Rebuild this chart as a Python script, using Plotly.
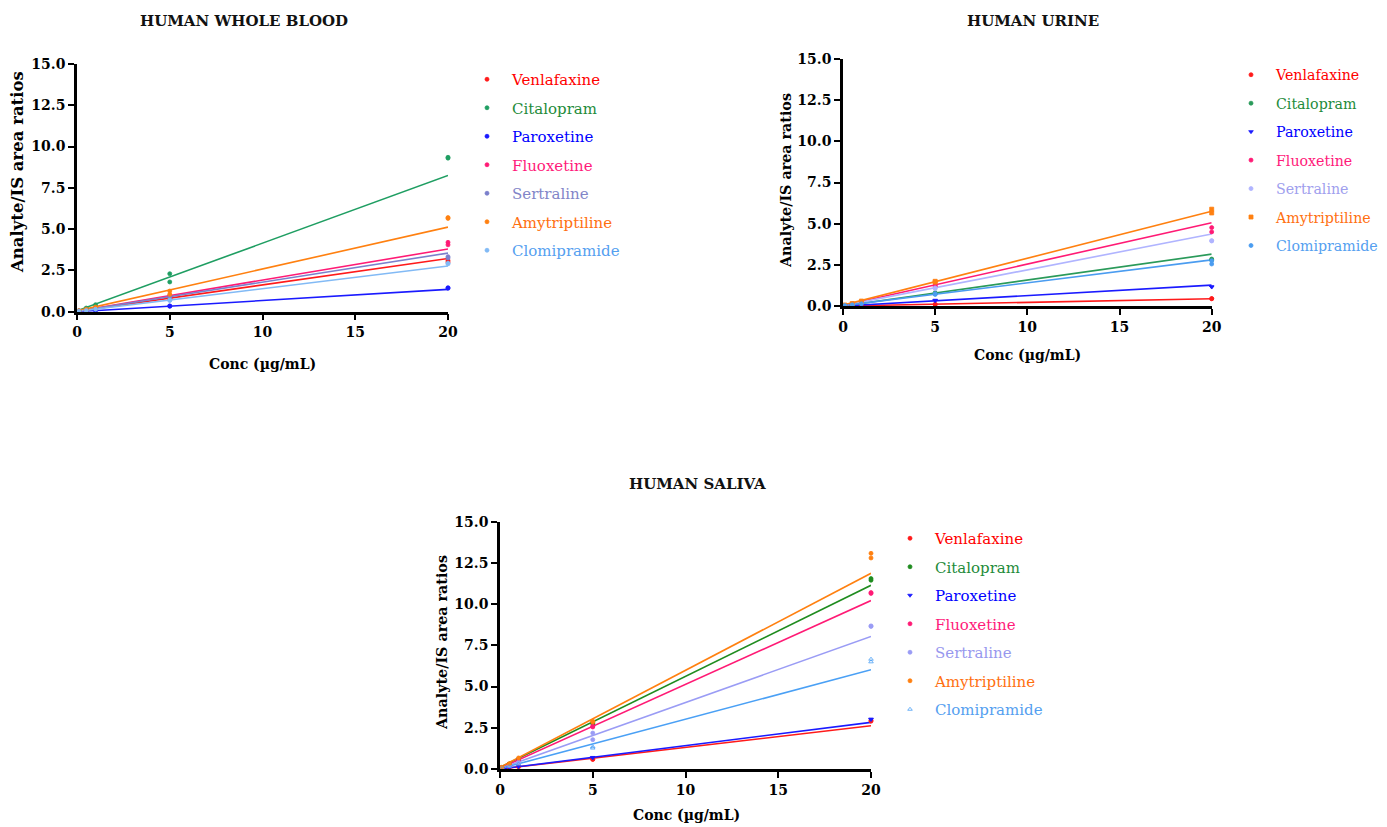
import plotly.graph_objects as go

W, H = 1387, 827
OFF = 8  # page body margin offset

drugs = ["Venlafaxine", "Citalopram", "Paroxetine", "Fluoxetine",
         "Sertraline", "Amytriptiline", "Clomipramide"]

conc = [0.1, 0.5, 1, 5, 5, 20, 20]
x_ticks = [0, 5, 10, 15, 20]
y_ticks = [0, 2.5, 5, 7.5, 10, 12.5, 15]

# ---- HUMAN WHOLE BLOOD ----
blood_pts = {
    "Venlafaxine":   [0.03, 0.08, 0.17, 0.82, 0.78, 3.10, 3.00],
    "Citalopram":    [0.05, 0.22, 0.42, 2.30, 1.80, 9.35, 9.30],
    "Paroxetine":    [0.01, 0.04, 0.07, 0.35, 0.33, 1.45, 1.42],
    "Fluoxetine":    [0.04, 0.10, 0.20, 0.95, 0.90, 4.20, 4.05],
    "Sertraline":    [0.04, 0.09, 0.18, 0.90, 0.85, 3.33, 3.25],
    "Amytriptiline": [0.06, 0.15, 0.28, 1.25, 1.05, 5.70, 5.65],
    "Clomipramide":  [0.03, 0.07, 0.15, 0.70, 0.68, 2.93, 2.90],
}
blood_fit_end = [3.22, 8.25, 1.35, 3.80, 3.55, 5.12, 2.77]
blood_fit_start = [0.02, 0.05, 0.00, 0.03, 0.03, 0.05, 0.02]

# ---- HUMAN URINE ----
urine_pts = {
    "Venlafaxine":   [0.00, 0.01, 0.02, 0.10, 0.09, 0.45, 0.44],
    "Citalopram":    [0.02, 0.08, 0.15, 0.80, 0.75, 2.85, 2.80],
    "Paroxetine":    [0.01, 0.03, 0.06, 0.35, 0.32, 1.17, 1.15],
    "Fluoxetine":    [0.04, 0.13, 0.25, 1.25, 1.20, 4.76, 4.50],
    "Sertraline":    [0.03, 0.10, 0.20, 1.10, 1.05, 3.97, 3.95],
    "Amytriptiline": [0.06, 0.15, 0.30, 1.50, 1.45, 5.88, 5.65],
    "Clomipramide":  [0.03, 0.07, 0.14, 0.75, 0.70, 2.75, 2.55],
}
urine_fit_end = [0.44, 3.15, 1.27, 5.06, 4.37, 5.75, 2.80]
urine_fit_start = [0.00, 0.00, 0.00, 0.03, 0.02, 0.05, 0.02]

# ---- HUMAN SALIVA ----
saliva_pts = {
    "Venlafaxine":   [0.02, 0.07, 0.13, 0.60, 0.58, 2.95, 2.90],
    "Citalopram":    [0.10, 0.30, 0.60, 2.80, 2.75, 11.55, 11.45],
    "Paroxetine":    [0.02, 0.07, 0.14, 0.70, 0.68, 3.03, 3.00],
    "Fluoxetine":    [0.08, 0.28, 0.55, 2.60, 2.55, 10.70, 10.65],
    "Sertraline":    [0.05, 0.20, 0.40, 2.18, 1.78, 8.68, 8.65],
    "Amytriptiline": [0.10, 0.32, 0.67, 2.90, 2.85, 13.08, 12.80],
    "Clomipramide":  [0.03, 0.15, 0.30, 1.27, 1.35, 6.66, 6.50],
}
saliva_fit_end = [2.62, 11.14, 2.83, 10.22, 8.04, 11.87, 6.02]
saliva_fit_start = [0.00, 0.10, 0.00, 0.05, 0.03, 0.10, 0.02]

titles = ["HUMAN WHOLE BLOOD", "HUMAN URINE", "HUMAN SALIVA"]
x_title = "Conc (µg/mL)"
y_title = "Analyte/IS area ratios"

# styles
line_colors = [
    ["#ff1a1a", "#1f9e62", "#1a1aff", "#ff1a75", "#7b80cc", "#ff8010", "#82baf5"],
    ["#ff1a1a", "#2a9a5a", "#1a1aff", "#ff1a75", "#b0b4ff", "#ff8010", "#4a9cf0"],
    ["#ff1a1a", "#1f8c1f", "#1a1aff", "#ff1a75", "#9a9cf5", "#ff8010", "#4aa0f5"],
]
text_colors = [
    ["#ff0000", "#1e8b3a", "#0000ff", "#ff1a7a", "#8285c8", "#ff7010", "#55a0f0"],
    ["#ff0000", "#1e8b3a", "#0000ff", "#ff1a7a", "#a0a0ee", "#ff7010", "#55a0f0"],
    ["#ff0000", "#1e8b3a", "#0000ff", "#ff1a7a", "#9898ee", "#ff7010", "#55a0f0"],
]
symbols = [
    ["circle"] * 7,
    ["circle", "circle", "triangle-down", "circle", "circle", "square", "circle"],
    ["circle", "circle", "triangle-down", "circle", "circle", "circle", "triangle-up-open"],
]

FONT = "DejaVu Serif"

panels = [
    (blood_pts, blood_fit_start, blood_fit_end),
    (urine_pts, urine_fit_start, urine_fit_end),
    (saliva_pts, saliva_fit_start, saliva_fit_end),
]

# pixel layout of plot areas in the screenshot (left, right, top, bottom)
boxes = [(77, 448, 64, 311.7), (843, 1211.7, 59, 306), (500, 871, 521.7, 769)]
legend_pos = [(462, 63), (1226, 59), (885, 522)]
legend_font = [15, 14.2, 15]
legend_gap = [6, 7, 6]


def px(v):
    return (v - OFF) / W


def py(v):
    return 1 - (v - OFF) / H


fig = go.Figure()
for p, (pts, f0, f1) in enumerate(panels):
    xa = "x" if p == 0 else f"x{p+1}"
    ya = "y" if p == 0 else f"y{p+1}"
    lg = "legend" if p == 0 else f"legend{p+1}"
    for i, d in enumerate(drugs):
        grp = f"p{p}_{d}"
        fig.add_trace(go.Scatter(
            x=[0, 20], y=[f0[i], f1[i]], mode="lines",
            line=dict(color=line_colors[p][i], width=1.6),
            xaxis=xa, yaxis=ya, showlegend=False, legendgroup=grp,
            legend=lg, hoverinfo="skip"))
    for i, d in enumerate(drugs):
        grp = f"p{p}_{d}"
        fig.add_trace(go.Scatter(
            x=conc, y=pts[d], mode="markers",
            marker=dict(color=line_colors[p][i], size=4, symbol=symbols[p][i],
                        line=dict(width=0.8, color=line_colors[p][i])),
            name=f"<span style='color:{text_colors[p][i]}'>{d}</span>",
            xaxis=xa, yaxis=ya, legendgroup=grp, legend=lg, cliponaxis=False))

layout = dict(
    width=W, height=H, autosize=False,
    margin=dict(l=0, r=0, t=0, b=0, pad=0, autoexpand=False),
    paper_bgcolor="white", plot_bgcolor="white", showlegend=True,
    font=dict(family=FONT, color="black"),
)
annotations = []
title_pos = [(244, 21), (1033, 21), (697, 484)]
xt_pos = [(262, 364), (1027, 355), (686, 815)]
yt_pos = [(18, 172), (786, 181), (442, 643)]
yt_size = [16.5, 14.3, 14.3]
for p in range(3):
    l, r, t, b = boxes[p]
    sfx = "" if p == 0 else str(p + 1)
    layout["xaxis" + sfx] = dict(
        domain=[px(l), px(r)], anchor="y" + sfx, range=[0, 20],
        tickvals=x_ticks, showline=True, linewidth=2.5, linecolor="black",
        ticks="outside", ticklen=6, tickwidth=2, tickcolor="black",
        showgrid=False, zeroline=False, fixedrange=True, automargin=False,
        tickfont=dict(family=FONT, size=14, color="black", weight="bold"))
    layout["yaxis" + sfx] = dict(
        domain=[py(b), py(t)], anchor="x" + sfx, range=[0, 15],
        tickvals=y_ticks, tickformat=".1f", showline=True, linewidth=2.5,
        linecolor="black", ticks="outside", ticklen=6, tickwidth=2,
        tickcolor="black", showgrid=False, zeroline=False, fixedrange=True,
        automargin=False,
        tickfont=dict(family=FONT, size=14, color="black", weight="bold"))
    lx, ly = legend_pos[p]
    layout["legend" if p == 0 else f"legend{p+1}"] = dict(
        x=px(lx), y=py(ly), xanchor="left", yanchor="top",
        bgcolor="rgba(0,0,0,0)", tracegroupgap=legend_gap[p], itemwidth=40,
        font=dict(family=FONT, size=legend_font[p]),
        itemclick=False, itemdoubleclick=False)
    annotations.append(dict(
        text=f"<b>{titles[p]}</b>", x=px(title_pos[p][0]), y=py(title_pos[p][1]),
        xref="paper", yref="paper", showarrow=False, xanchor="center", yanchor="middle",
        font=dict(family=FONT, size=15, color="#111111")))
    annotations.append(dict(
        text=f"<b>{x_title}</b>", x=px(xt_pos[p][0]), y=py(xt_pos[p][1]),
        xref="paper", yref="paper", showarrow=False, xanchor="center", yanchor="middle",
        font=dict(family=FONT, size=14, color="black")))
    annotations.append(dict(
        text=f"<b>{y_title}</b>", x=px(yt_pos[p][0]), y=py(yt_pos[p][1]),
        xref="paper", yref="paper", showarrow=False, xanchor="center", yanchor="middle",
        textangle=-90, font=dict(family=FONT, size=yt_size[p], color="black")))
layout["annotations"] = annotations
fig.update_layout(**layout)

fig.write_html("out.html")
